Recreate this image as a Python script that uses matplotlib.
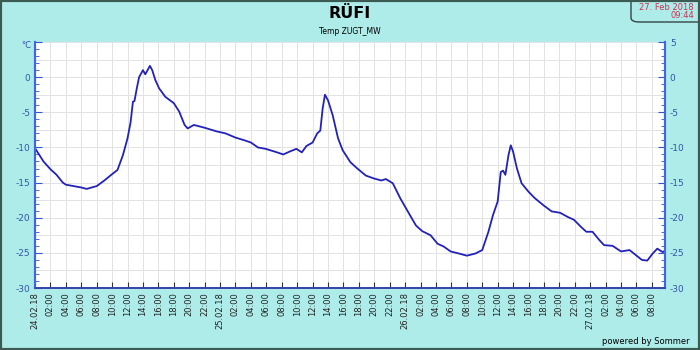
import numpy as np
import matplotlib
matplotlib.use("Agg")
import matplotlib.pyplot as plt
from matplotlib.patches import Rectangle, FancyBboxPatch
from matplotlib.ticker import MultipleLocator

# --- data: hours since 24.02.18 00:00, temperature in °C ---
hours = [0, 1.1, 2, 2.8, 3.6, 4, 5, 6, 6.7, 8, 9, 10, 10.7, 11.4, 12, 12.4, 12.7, 12.9,
         13.2, 13.5, 14, 14.3, 14.6, 14.9, 15.2, 15.6, 16.1, 16.9, 18, 18.7, 19.4, 19.8,
         20.6, 22, 23.5, 24.7, 26, 27.2, 28, 28.9, 29.9, 31.1, 32.2, 33.0, 33.9, 34.6,
         35.2, 36.0, 36.6, 37.0, 37.3, 37.6, 38.0, 38.6, 39.3, 39.9, 40.9, 41.8, 42.9,
         43.9, 44.9, 45.5, 46.4, 47.4, 48.5, 49.4, 50.2, 51.3, 52.2, 53.0, 53.9, 55.0,
         56, 57.1, 58, 58.8, 59.4, 60, 60.4, 60.7, 61, 61.4, 61.7, 62, 62.5, 63.1, 64,
         64.8, 65.9, 67, 68.1, 69.1, 69.9, 70.8, 71.5, 72.3, 73.2, 73.8, 74.9, 76, 77.1,
         77.9, 78.7, 79.4, 80.1, 80.7, 81.4, 81.7]
temps = [-10.1, -12.0, -13.1, -13.9, -15.0, -15.3, -15.5, -15.7, -15.9, -15.5, -14.7,
         -13.8, -13.2, -11.1, -8.7, -6.4, -3.5, -3.4, -1.6, 0.0, 1.0, 0.4, 1.0, 1.6, 1.0,
         -0.4, -1.6, -2.8, -3.7, -4.9, -6.8, -7.3, -6.8, -7.2, -7.7, -8.0, -8.6, -9.0,
         -9.3, -10.0, -10.2, -10.6, -11.0, -10.6, -10.2, -10.7, -9.8, -9.3, -8.0, -7.6,
         -4.5, -2.5, -3.3, -5.4, -8.7, -10.4, -12.1, -13.0, -14.0, -14.4, -14.7, -14.5,
         -15.1, -17.3, -19.4, -21.1, -21.9, -22.5, -23.7, -24.1, -24.8, -25.1,
         -25.4, -25.1, -24.6, -22.0, -19.6, -17.7, -13.5, -13.3, -13.9, -11.1, -9.7,
         -10.6, -13.0, -15.1, -16.3, -17.2, -18.2, -19.1, -19.3, -19.9, -20.3, -21.3,
         -22.0, -22.0, -23.2, -23.9, -24.0, -24.8, -24.6, -25.3, -26.0, -26.1, -25.1,
         -24.4, -24.9, -24.7]

tick_hours = list(range(0, 81, 2))
day_labels = {0: "24.02.18", 24: "25.02.18", 48: "26.02.18", 72: "27.02.18"}
tick_labels = [day_labels.get(h, f"{h % 24:02d}:00") for h in tick_hours]
y_ticks = [-30, -25, -20, -15, -10, -5, 0, 5]
y_labels = ["-30", "-25", "-20", "-15", "-10", "-5", "0", "5"]

title = "RÜFI"
subtitle = "Temp ZUGT_MW"
stamp_date = "27. Feb 2018"
stamp_time = "09:44"

bg = "#aeecea"
ycol = "#3355aa"
fig = plt.figure(figsize=(7, 3.5), dpi=100, facecolor=bg)
ax = fig.add_axes([35/700, 1-288/350, 630/700, 246/350])
ax.set_facecolor("white")

# grid
for gy in np.arange(-30, 5.01, 2.5):
    ax.axhline(gy, color="#e2e2e2", lw=0.7, zorder=0)
for gx in tick_hours:
    ax.axvline(gx, color="#e2e2e2", lw=0.7, zorder=0)

ax.plot(hours, temps, color="#2222bb", lw=1.3, solid_joinstyle="round", zorder=3)

ax.set_xlim(0, 81.7)
ax.set_ylim(-30, 5)
ax.set_xticks(tick_hours)
ax.set_xticklabels(tick_labels, rotation=90, fontsize=6, color="#222222")
ax.set_yticks(y_ticks)
ax.set_yticklabels(y_labels[:-1] + [""])
ax.yaxis.set_minor_locator(MultipleLocator(1))
ax.tick_params(axis="y", which="both", direction="in", labelsize=6.5,
               labelcolor=ycol, color="#3355cc", length=3)
ax.tick_params(axis="y", which="major", length=5)
ax.tick_params(axis="x", direction="in", length=4, pad=3, color="#333333")

ax2 = ax.twinx()
ax2.set_ylim(-30, 5)
ax2.set_yticks(y_ticks)
ax2.set_yticklabels(y_labels)
ax2.yaxis.set_minor_locator(MultipleLocator(1))
ax2.tick_params(axis="y", which="both", direction="in", labelsize=6.5,
                labelcolor=ycol, color="#3355cc", length=3)
ax2.tick_params(axis="y", which="major", length=5)

for a in (ax, ax2):
    for s in ["left", "right"]:
        a.spines[s].set_color("#4466dd")
        a.spines[s].set_linewidth(1.5)
    a.spines["bottom"].set_color("#3344aa")
    a.spines["bottom"].set_linewidth(1.2)
    a.spines["top"].set_visible(False)

fig.text(0.5, 1-13/350, title, ha="center", va="center", fontsize=11.5, fontweight="bold")
fig.text(0.5, 1-31/350, subtitle, ha="center", va="center", fontsize=5.5)
fig.text(26/700, 1-45/350, "°C", ha="center", va="center", fontsize=6, color=ycol)
fig.text(690/700, 1-342/350, "powered by Sommer", ha="right", va="center", fontsize=6)

# date box
box = FancyBboxPatch((631/700, 1-22/350), 76/700, 28/350,
                     boxstyle="round,pad=0,rounding_size=0.012",
                     transform=fig.transFigure, facecolor=bg, edgecolor="#334444", lw=1.0)
fig.patches.append(box)

# outer frame
fig.patches.append(Rectangle((0, 0), 1, 1, transform=fig.transFigure, fill=False,
                             edgecolor="#3a5a52", lw=3))

fig.text(694/700, 1-7/350, stamp_date, ha="right", va="center", fontsize=6, color="#cc3355",
         zorder=10)
fig.text(694/700, 1-15.5/350, stamp_time, ha="right", va="center", fontsize=6, color="#cc3355",
         zorder=10)

fig.savefig("out.png", dpi=100, facecolor=bg)
